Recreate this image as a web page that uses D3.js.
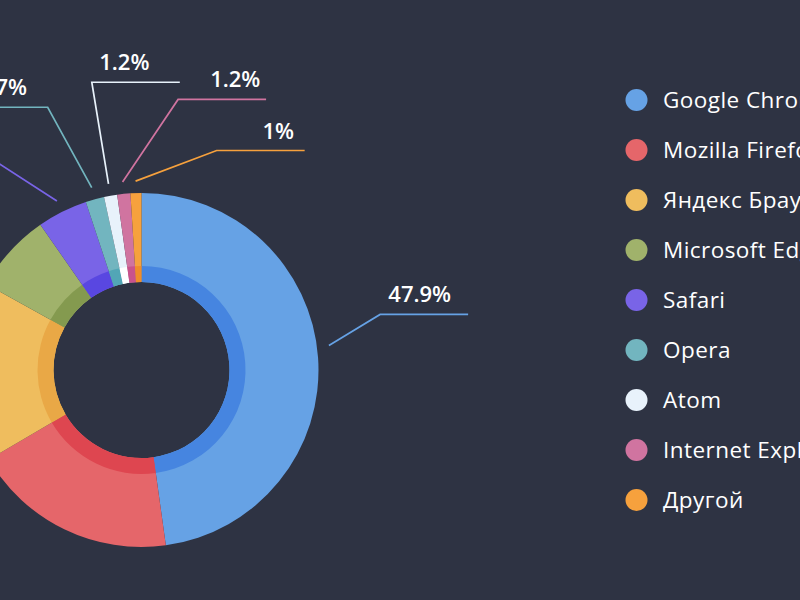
<!DOCTYPE html>
<html>
<head>
<meta charset="utf-8">
<script src="https://cdn.jsdelivr.net/npm/d3@7"></script>
<style>
  html, body { margin: 0; padding: 0; background: #2e3343; overflow: hidden; }
  svg { display: block; }
  text { font-family: "Open Sans", "Noto Sans", sans-serif; }
</style>
</head>
<body>
<svg id="chart" width="800" height="600"></svg>
<script>
// ---- data ----
const categories = ["Google Chrome", "Mozilla Firefox", "Яндекс Браузер", "Microsoft Edge", "Safari", "Opera", "Atom", "Internet Explorer", "Другой"];
const values = [47.9, 18.8, 16.5, 7.3, 4.6, 1.7, 1.2, 1.2, 1.0];
const valueLabels = ["47.9%", "18.8%", "16.5%", "7.3%", "4.6%", "1.7%", "1.2%", "1.2%", "1%"];
const colors = ["#66a2e5", "#e5666a", "#efbd5e", "#a0b26b", "#7964e7", "#72b5bf", "#e8f2fb", "#d074a0", "#f6a13d"];
const innerColors = ["#4685e0", "#de4650", "#e9a846", "#849a4f", "#5947e1", "#52a6b6", "#ffffff", "#c9538c", "#f08c2b"];

// ---- layout (label leader elbows: angle in degrees, radius in px; text position along segment) ----
const labelLayout = [
  { elbowAngle: 76.9, elbowR: 245, dir: 1, t: 0.45, startShift: -3.5 },
  null, null, null,
  { elbowAngle: -38.1, elbowR: 294, dir: -1, t: 0.5, startShift: 0 },
  { elbowAngle: -19.65, elbowR: 279, dir: -1, t: 0.52, startShift: 0 },
  { elbowAngle: -9.8, elbowR: 292, dir: 1, t: 0.37, startShift: 0 },
  { elbowAngle: 7.7, elbowR: 273, dir: 1, t: 0.65, startShift: 0 },
  { elbowAngle: 18.9, elbowR: 232, dir: 1, t: 0.70, startShift: 0 }
];

const svg = d3.select("#chart");
const cx = 141.5, cy = 370;
const R = 177, r0 = 88, rInner = 104;
const segLen = 88;

const g = svg.append("g").attr("transform", `translate(${cx},${cy})`);

const pie = d3.pie().sort(null).value(d => d.v);
const arcsData = pie(values.map((v, i) => ({ v, i })));

const arcOuter = d3.arc().innerRadius(r0).outerRadius(R);
const arcIn = d3.arc().innerRadius(r0).outerRadius(rInner);

g.selectAll("path.outer").data(arcsData).join("path")
  .attr("class", "outer")
  .attr("d", arcOuter)
  .attr("fill", d => colors[d.data.i]);

g.selectAll("path.inner").data(arcsData).join("path")
  .attr("class", "inner")
  .attr("d", arcIn)
  .attr("fill", d => innerColors[d.data.i]);

function polar(angDeg, rad) {
  const a = angDeg * Math.PI / 180;
  return [rad * Math.sin(a), -rad * Math.cos(a)];
}

const labels = g.append("g");
arcsData.forEach(d => {
  const L = labelLayout[d.data.i];
  if (!L) return;
  const mid = ((d.startAngle + d.endAngle) / 2) * 180 / Math.PI + L.startShift;
  const p0 = polar(mid, R + 12);
  const p1 = polar(L.elbowAngle, L.elbowR);
  const p2 = [p1[0] + L.dir * segLen, p1[1]];
  labels.append("polyline")
    .attr("points", [p0, p1, p2].map(p => p.join(",")).join(" "))
    .attr("fill", "none")
    .attr("stroke", colors[d.data.i])
    .attr("stroke-width", 1.7);
  labels.append("text")
    .attr("x", p1[0] + L.dir * segLen * L.t)
    .attr("y", p1[1] - 12)
    .attr("text-anchor", "middle")
    .attr("font-size", 22)
    .attr("font-weight", 600)
    .attr("fill", "#ffffff")
    .text(valueLabels[d.data.i]);
});

// ---- legend ----
const legendY = d3.scalePoint().domain(categories).range([100, 500]);
const legend = svg.append("g");
const items = legend.selectAll("g").data(categories).join("g")
  .attr("transform", c => `translate(636.5,${legendY(c)})`);
items.append("circle").attr("r", 11).attr("fill", (c, i) => colors[i]);
items.append("text")
  .attr("x", 26.5)
  .attr("y", 8)
  .attr("font-size", 22.5)
  .attr("font-weight", 500)
  .attr("letter-spacing", 0.45)
  .attr("fill", "#ffffff")
  .text(c => c);
</script>
</body>
</html>
